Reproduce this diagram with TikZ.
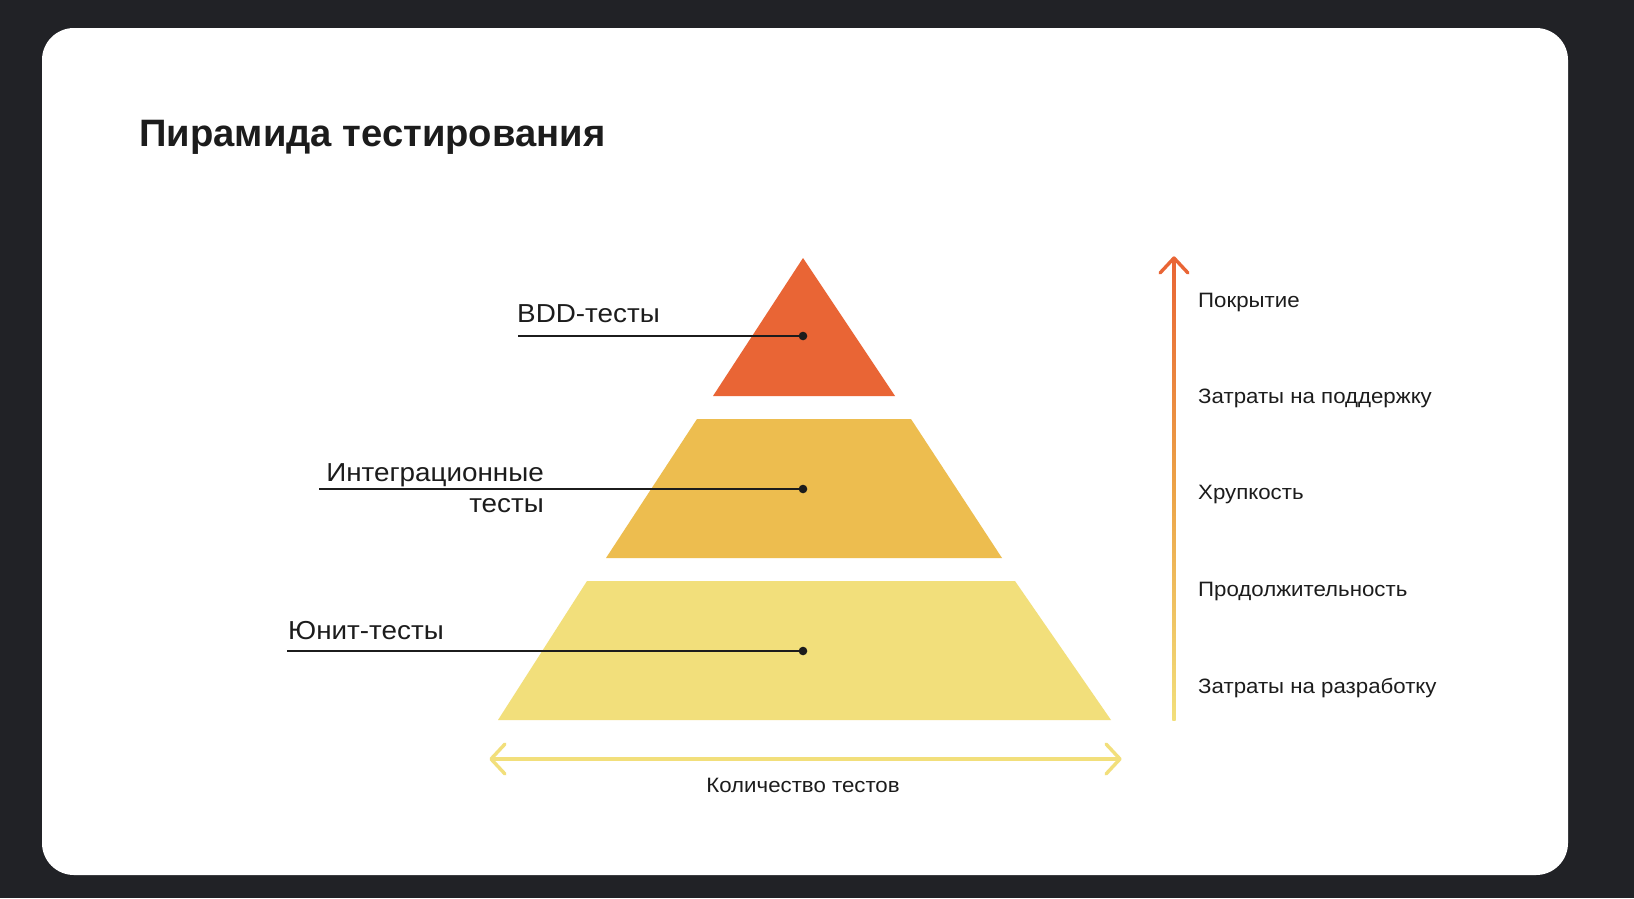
\documentclass[tikz,border=0pt]{standalone}
\usepackage{fontspec}
\setmainfont{Liberation Sans}[FakeStretch=1.07]
\newfontfamily\titlefont{Liberation Sans}
\usetikzlibrary{arrows.meta}
\definecolor{bgdark}{HTML}{212226}
\definecolor{topor}{HTML}{E96535}
\definecolor{midye}{HTML}{EDBD4F}
\definecolor{lowye}{HTML}{F2DF7B}
\definecolor{txt}{HTML}{1C1C1C}
\tikzset{
  lbl/.style={font=\fontsize{26}{30}\selectfont, text=txt, inner sep=0pt},
  side/.style={font=\fontsize{20.8}{24}\selectfont, text=txt, inner sep=0pt, anchor=west},
  leader/.style={draw=txt, line width=1.3pt},
  dotmark/.style={fill=txt},
  chev/.style={line width=3.4pt, line cap=round, line join=round},
}
\begin{document}
\begin{tikzpicture}[x=1pt,y=-1pt]
\fill[bgdark] (0,0) rectangle (1634,898);
\useasboundingbox (0,0) rectangle (1634,898);
\fill[white, rounded corners=32pt] (42,28) rectangle (1568,875);

\node[anchor=base west, font=\titlefont\bfseries\fontsize{38.2}{44}\selectfont, text=txt, inner sep=0pt] (title) at (139,146) {Пирамида тестирования};

% pyramid
\fill[topor] (803,258) -- (895,396) -- (713,396) -- cycle;
\fill[midye] (697,419) -- (911,419) -- (1002,558) -- (606,558) -- cycle;
\fill[lowye] (587,581) -- (1015,581) -- (1111,720) -- (498,720) -- cycle;

% dots and leaders
\coordinate (d1) at (803,336);
\coordinate (d2) at (803,489);
\coordinate (d3) at (803,651);
\coordinate (l1) at (518,336);
\coordinate (l2) at (319,489);
\coordinate (l3) at (287,651);
\draw[leader] (l1) -- (d1);
\draw[leader] (l2) -- (d2);
\draw[leader] (l3) -- (d3);
\fill[dotmark] (d1) circle (4.3);
\fill[dotmark] (d2) circle (4.3);
\fill[dotmark] (d3) circle (4.3);

\node[lbl, anchor=base west] (bdd) at (517,322) {BDD-тесты};
\node[lbl, anchor=base east] (int1) at (544,481) {Интеграционные};
\node[lbl, anchor=base east] (int2) at (544,512) {тесты};
\node[lbl, anchor=base west] (unit) at (288,639) {Юнит-тесты};

% vertical gradient arrow
\shade[top color=topor, bottom color=lowye, middle color=midye!70!topor] (1172.3,258) rectangle (1175.7,720);
\coordinate (vtop) at (1174,258);
\coordinate (vl) at (1160,273);
\coordinate (vr) at (1188,273);
\draw[chev, topor] (vl) -- (vtop) -- (vr);

\node[side] (s1) at (1198,302) {Покрытие};
\node[side] (s2) at (1198,398) {Затраты на поддержку};
\node[side] (s3) at (1198,494) {Хрупкость};
\node[side] (s4) at (1198,591) {Продолжительность};
\node[side] (s5) at (1198,688) {Затраты на разработку};

% horizontal arrow
\coordinate (hl) at (491,759);
\coordinate (hr) at (1120,759);
\draw[lowye, line width=3.6pt] (hl) -- (hr);
\coordinate (hl1) at (505,744);
\coordinate (hl2) at (505,774);
\coordinate (hr1) at (1106,744);
\coordinate (hr2) at (1106,774);
\draw[chev, lowye] (hl1) -- (hl) -- (hl2);
\draw[chev, lowye] (hr1) -- (hr) -- (hr2);

\node[font=\fontsize{20.8}{24}\selectfont, text=txt, inner sep=0pt] (cnt) at (803,785) {Количество тестов};
\end{tikzpicture}
\end{document}
